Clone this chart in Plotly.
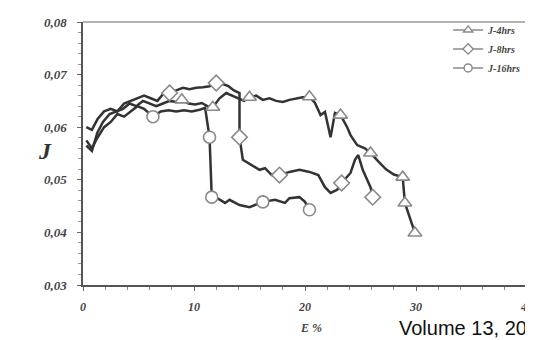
import plotly.graph_objects as go

# ---- data ----
x_4h = [0.3, 0.8, 1.3, 1.8, 2.4, 3.0, 3.6, 4.2, 4.8, 5.4, 6.0, 6.6, 7.2, 7.8, 8.4, 8.9, 9.5, 10.1, 10.7, 11.2,
        11.7, 12.3, 12.9, 13.4, 14.0, 14.5, 15.0, 15.6, 16.2, 16.8, 17.4, 18.0, 18.6, 19.2, 19.8, 20.4, 20.9,
        21.4, 21.8, 22.3, 22.7, 23.2, 23.8, 24.1, 24.7, 25.4, 25.9, 26.6, 27.3, 28.0, 28.8, 29.0, 29.4, 29.9]
y_4h = [0.0565, 0.0555, 0.0590, 0.0610, 0.0625, 0.0630, 0.0635, 0.0645, 0.0640, 0.0650, 0.0645, 0.0640,
        0.0645, 0.0650, 0.0648, 0.0652, 0.0645, 0.0643, 0.0646, 0.0640, 0.0638, 0.0655, 0.0665, 0.0660,
        0.0655, 0.0650, 0.0657, 0.0660, 0.0652, 0.0655, 0.0650, 0.0648, 0.0652, 0.0655, 0.0657, 0.0658,
        0.0646, 0.0623, 0.0629, 0.0581, 0.0627, 0.0623, 0.0600, 0.0585, 0.0566, 0.0560, 0.0551, 0.0535,
        0.0520, 0.0510, 0.0505, 0.0456, 0.0430, 0.0399]
mk_4h = [15, 20, 26, 35, 41, 46, 50, 51, 53]

x_8h = [0.3, 0.8, 1.3, 1.9, 2.5, 3.1, 3.7, 4.3, 4.9, 5.5, 6.1, 6.7, 7.3, 7.8, 8.4, 9.0, 9.6, 10.2, 10.8, 11.4,
        12.0, 12.6, 13.1, 13.6, 14.1, 14.1, 14.4, 15.2, 15.9, 16.4, 17.0, 17.7, 18.6, 19.5, 20.4, 21.2, 21.8,
        22.3, 22.9, 23.3, 24.1, 24.5, 24.8, 25.2, 25.9, 26.1]
y_8h = [0.0600, 0.0595, 0.0615, 0.0630, 0.0635, 0.0630, 0.0645, 0.0650, 0.0655, 0.0660, 0.0655, 0.0650,
        0.0665, 0.0665, 0.0670, 0.0675, 0.0672, 0.0675, 0.0676, 0.0678, 0.0684, 0.0682, 0.0678, 0.0670,
        0.0665, 0.0581, 0.0538, 0.0528, 0.0519, 0.0522, 0.0509, 0.0509, 0.0515, 0.0519, 0.0515, 0.0509,
        0.0486, 0.0475, 0.0481, 0.0494, 0.0513, 0.0538, 0.0547, 0.0519, 0.0486, 0.0467]
mk_8h = [13, 20, 25, 31, 39, 45]

x_16h = [0.3, 0.8, 1.3, 1.9, 2.5, 3.1, 3.7, 4.3, 4.9, 5.5, 6.3, 7.0, 7.7, 8.4, 9.1, 9.8, 10.5, 11.0, 11.4,
         11.6, 12.1, 12.8, 13.2, 14.1, 15.0, 16.2, 17.3, 18.2, 18.6, 19.5, 20.0, 20.4]
y_16h = [0.0575, 0.0560, 0.0580, 0.0600, 0.0610, 0.0625, 0.0620, 0.0630, 0.0640, 0.0635, 0.0620, 0.0630,
         0.0632, 0.0630, 0.0632, 0.0630, 0.0633, 0.0637, 0.0581, 0.0467, 0.0465, 0.0456, 0.0462, 0.0452,
         0.0448, 0.0458, 0.0462, 0.0456, 0.0465, 0.0467, 0.0458, 0.0443]
mk_16h = [10, 18, 19, 25, 31]

series_names = ["J-4hrs", "J-8hrs", "J-16hrs"]
series_symbols = ["triangle-up", "diamond", "circle"]

y_tickvals = [0.03, 0.04, 0.05, 0.06, 0.07, 0.08]
y_ticktext = ["0,03", "0,04", "0,05", "0,06", "0,07", "0,08"]
x_tickvals = [0, 10, 20, 30, 40]
x_ticktext = ["0", "10", "20", "30", "40"]

LINE = "#333333"
MK = "#8a8a8a"
FONT = "Liberation Serif"

fig = go.Figure()
all_series = [(x_4h, y_4h, mk_4h), (x_8h, y_8h, mk_8h), (x_16h, y_16h, mk_16h)]
for xs, ys, mk in all_series:
    fig.add_trace(go.Scatter(x=xs, y=ys, mode="lines", line=dict(color=LINE, width=2.5),
                             showlegend=False, hoverinfo="skip"))
for (xs, ys, mk), sym in zip(all_series, series_symbols):
    fig.add_trace(go.Scatter(x=[xs[i] for i in mk], y=[ys[i] for i in mk], mode="markers",
                             marker=dict(symbol=sym, size=12, color="white",
                                         line=dict(color=MK, width=1.6)),
                             showlegend=False))
for name, sym in zip(series_names, series_symbols):
    fig.add_trace(go.Scatter(x=[None], y=[None], mode="lines+markers", name=name,
                             line=dict(color=MK, width=1.5),
                             marker=dict(symbol=sym, size=8, color="white",
                                         line=dict(color=MK, width=1.4))))

xtickfont = dict(family=FONT, size=12, color="#444", weight="bold", style="italic")
ytickfont = dict(family=FONT, size=13, color="#444", weight="bold", style="italic")
fig.update_xaxes(range=[0, 40], tickvals=x_tickvals, ticktext=x_ticktext, tickfont=xtickfont,
                 showgrid=False, zeroline=False, showline=True, linecolor="#555", linewidth=1.5,
                 ticks="outside", ticklen=4, tickcolor="#666", automargin=False,
                 minor=dict(dtick=2, ticks="outside", ticklen=3, tickcolor="#888"),
                 ticklabelstandoff=6)
fig.update_yaxes(range=[0.03, 0.08], tickvals=y_tickvals, ticktext=y_ticktext, tickfont=ytickfont,
                 showgrid=False, zeroline=False, showline=True, linecolor="#555", linewidth=1.5,
                 ticks="outside", ticklen=4, tickcolor="#666", automargin=False,
                 minor=dict(dtick=0.002, ticks="outside", ticklen=3, tickcolor="#999"),
                 ticklabelstandoff=8)

fig.add_shape(type="line", xref="paper", yref="paper", x0=0, x1=1, y0=1, y1=1,
              line=dict(color="#9a9a9a", width=1.5))
fig.add_shape(type="line", xref="paper", yref="paper", x0=1, x1=1, y0=0, y1=1,
              line=dict(color="#c8c8c8", width=1.2))

fig.add_annotation(text="J", xref="paper", yref="paper", x=(45 - 83) / 444, y=0.51, showarrow=False,
                   xanchor="center", yanchor="middle",
                   font=dict(family=FONT, size=24, color="#333", weight="bold", style="italic"))
fig.add_annotation(text="E %", xref="x", yref="paper", x=20.5, y=-0.165, showarrow=False,
                   yanchor="middle",
                   font=dict(family=FONT, size=12, color="#444", weight="bold", style="italic"))
fig.add_annotation(text="Volume 13, 20", xref="paper", yref="paper", x=(397 - 83) / 444, y=-0.165,
                   xanchor="left", yanchor="middle", showarrow=False,
                   font=dict(family="Liberation Sans", size=20, color="#111"))

# page body adds an 8px offset; the figure is sized so the plot lands where the reference's does
fig.update_layout(
    width=525, height=332,
    margin=dict(l=75, r=6, t=14, b=55, autoexpand=False),
    paper_bgcolor="white", plot_bgcolor="white",
    legend=dict(x=0.998, y=1.025, xanchor="right", yanchor="top", bgcolor="rgba(0,0,0,0)",
                font=dict(family=FONT, size=10, color="#444", weight="bold", style="italic"),
                itemwidth=30, tracegroupgap=0),
)

fig.write_html("out.html")
